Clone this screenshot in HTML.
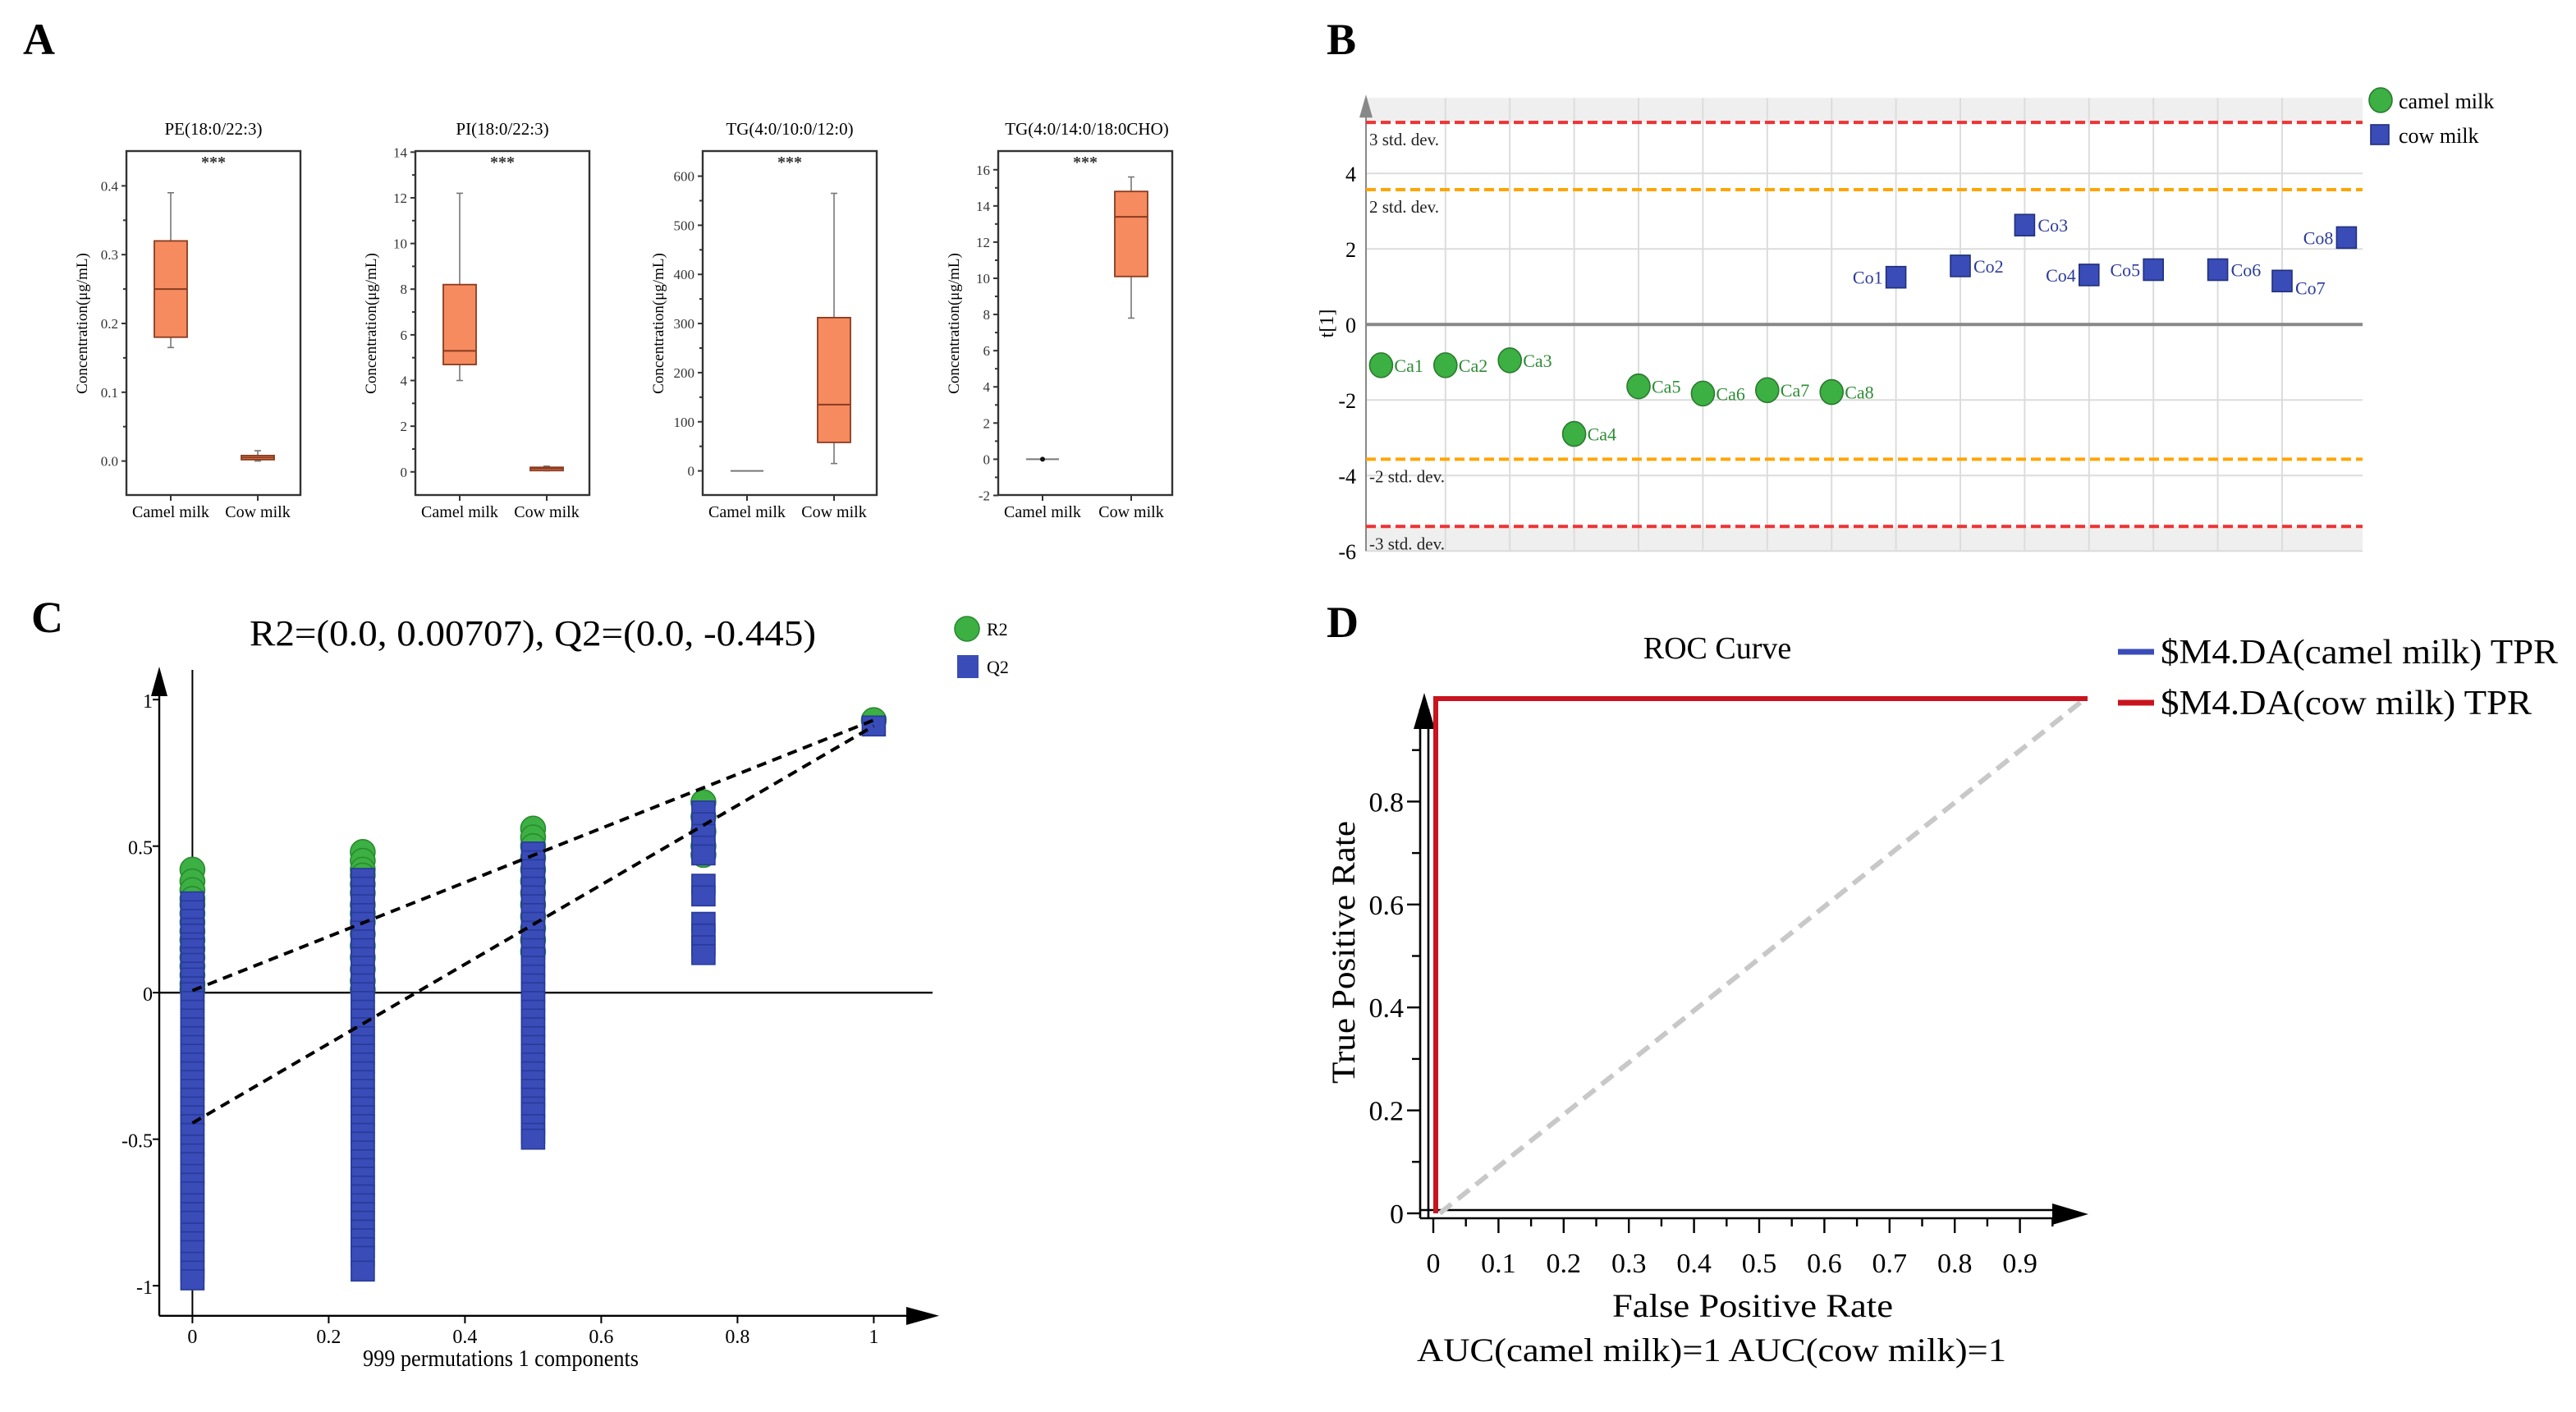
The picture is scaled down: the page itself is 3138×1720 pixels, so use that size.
<!DOCTYPE html>
<html><head><meta charset="utf-8">
<style>
html,body{margin:0;padding:0;background:#fff;}
svg{display:block;}
text{font-family:"Liberation Serif","DejaVu Serif",serif;}
</style></head>
<body>
<svg id="fig" width="3138" height="1720" viewBox="0 0 1569 860" xmlns="http://www.w3.org/2000/svg">
<rect x="0" y="0" width="1569" height="860" fill="#fff"/>
<text x="14" y="33" font-size="27" font-weight="bold">A</text>
<text x="808" y="33" font-size="27" font-weight="bold">B</text>
<text x="19" y="385" font-size="27" font-weight="bold">C</text>
<text x="808" y="388" font-size="27" font-weight="bold">D</text>
<g id="pa"></g>
<g id="pb"></g>
<g id="pc"></g>
<g id="pd"></g>
</svg>
<script>
// ---------- Panel A data ----------
const boxCats = ['Camel milk','Cow milk'];
const boxTitles = ['PE(18:0/22:3)','PI(18:0/22:3)','TG(4:0/10:0/12:0)','TG(4:0/14:0/18:0CHO)'];
// [min, q1, median, q3, max]
const peCamel = [0.165,0.18,0.25,0.32,0.39];
const peCow = [0.0,0.002,0.005,0.008,0.015];
const piCamel = [4.0,4.7,5.3,8.2,12.2];
const piCow = [0.05,0.1,0.15,0.2,0.25];
const tg1Camel = [0,0,0,0,0];
const tg1Cow = [15,58,135,312,565];
const tg2Camel = [0,0,0,0,0];
const tg2Cow = [7.8,10.1,13.4,14.8,15.6];
const tick1 = ['0.0','0.1','0.2','0.3','0.4'];
const tick2 = ['0','2','4','6','8','10','12','14'];
const tick3 = ['0','100','200','300','400','500','600'];
const tick4 = ['-2','0','2','4','6','8','10','12','14','16'];

// ---------- Panel B data ----------
const camelLabels = ['Ca1','Ca2','Ca3','Ca4','Ca5','Ca6','Ca7','Ca8'];
const camelScores = [-1.08,-1.08,-0.95,-2.9,-1.64,-1.83,-1.74,-1.79];
const cowLabels = ['Co1','Co2','Co3','Co4','Co5','Co6','Co7','Co8'];
const cowScores = [1.25,1.55,2.63,1.31,1.45,1.45,1.15,2.30];
const bTicks = ['-6','-4','-2','0','2','4'];
const stdLevels = [3.57,5.35];

// ---------- Panel C data ----------
const permX = [0,0.25,0.5,0.75,1];
const r2At0 = [0.42,0.38,0.35,0.32,0.30,0.27,0.24,0.21,0.18,0.15,0.12,0.09,0.06,0.03,0.01];
const r2At25 = [0.48,0.45,0.42,0.40,0.37,0.34,0.30,0.27,0.24,0.20,0.16,0.12,0.08,0.04,0.01];
const r2At50 = [0.56,0.53,0.50,0.46,0.42,0.38,0.34,0.30,0.26,0.22,0.18,0.14];
const r2At75 = [0.65,0.60,0.55,0.50,0.47];
const r2At100 = [0.93];
const q2At0 = [0.31,0.28,0.25,0.22,0.20,0.17,0.15,0.12,0.10,0.07,0.05,0.02,0,-0.03,-0.06,-0.09,-0.12,-0.15,-0.18,-0.21,-0.24,-0.27,-0.30,-0.33,-0.36,-0.39,-0.42,-0.45,-0.48,-0.52,-0.55,-0.58,-0.62,-0.65,-0.68,-0.72,-0.75,-0.78,-0.82,-0.85,-0.88,-0.92,-0.95,-0.98];
const q2At25 = [0.39,0.36,0.33,0.30,0.27,0.24,0.21,0.18,0.15,0.12,0.09,0.06,0.03,0,-0.03,-0.06,-0.09,-0.12,-0.15,-0.18,-0.21,-0.24,-0.27,-0.30,-0.33,-0.36,-0.39,-0.42,-0.45,-0.48,-0.51,-0.54,-0.57,-0.60,-0.63,-0.66,-0.69,-0.72,-0.75,-0.78,-0.81,-0.84,-0.87,-0.90,-0.95];
const q2At50 = [0.48,0.45,0.42,0.39,0.36,0.33,0.30,0.27,0.24,0.21,0.18,0.15,0.12,0.09,0.06,0.03,0,-0.03,-0.06,-0.09,-0.12,-0.15,-0.18,-0.21,-0.24,-0.27,-0.30,-0.33,-0.36,-0.39,-0.41,-0.45,-0.48,-0.50];
const q2At75 = [0.62,0.58,0.54,0.50,0.47,0.37,0.33,0.24,0.20,0.16,0.13];
const q2At100 = [0.91];
const r2Intercept = [0.00707,0.93];
const q2Intercept = [-0.445,0.91];
const cXTicks = ['0','0.2','0.4','0.6','0.8','1'];
const cYTicks = ['-1','-0.5','0','0.5','1'];

// ---------- Panel D data ----------
const rocFpr = [0,0,1];
const rocTpr = [0,1,1];
const dXTicks = ['0','0.1','0.2','0.3','0.4','0.5','0.6','0.7','0.8','0.9'];
const dYTicks = ['0','0.2','0.4','0.6','0.8'];

const NS='http://www.w3.org/2000/svg';
function mk(tag, attrs, parent){const e=document.createElementNS(NS,tag);for(const k in attrs)e.setAttribute(k,attrs[k]);parent.appendChild(e);return e;}
function tx(str, attrs, parent){const e=mk('text',attrs,parent);e.textContent=str;return e;}

// ================= PANEL A =================
const pa=document.getElementById('pa');
const subs=[
 {fx:77,cx:[104,157],y0:280.8,k:419,ticks:tick1,data:[peCamel,peCow],tx:130,minor:0.05},
 {fx:253,cx:[280,333],y0:287.4,k:13.91,ticks:tick2,data:[piCamel,piCow],tx:306,minor:1},
 {fx:428,cx:[455,508],y0:286.8,k:0.2992,ticks:tick3,data:[tg1Camel,tg1Cow],tx:481,minor:50},
 {fx:608,cx:[635,689],y0:279.7,k:11.02,ticks:tick4,data:[tg2Camel,tg2Cow],tx:662,minor:1}
];
subs.forEach((s,si)=>{
  const g=mk('g',{},pa);
  
  
  const yv=v=>s.y0-v*s.k;
  const t=tx(boxTitles[si],{x:s.tx,y:82,'font-size':10.5,'text-anchor':'middle'},g);
  
  
  const fr=mk('rect',{x:s.fx,y:92,width:106,height:209.5,fill:'none',stroke:'#333','stroke-width':1.2},g);
  
  
  const st=tx('***',{x:s.fx+53,y:102,'font-size':10,'text-anchor':'middle','font-weight':'bold',fill:'#333'},g);
  
  
  const yl=tx('Concentration(μg/mL)',{x:0,y:0,'font-size':9.5,'text-anchor':'middle',transform:`translate(${s.fx-24},197) rotate(-90)`},g);
  
  
  s.ticks.forEach(lb=>{
    const v=parseFloat(lb);const y=yv(v);
    mk('line',{x1:s.fx-3,x2:s.fx,y1:y,y2:y,stroke:'#333'},g);
    const l=tx(lb,{x:s.fx-5,y:y+3,'font-size':8.5,'text-anchor':'end',fill:'#333'},g);
    
    
    const ym=yv(v+s.minor);
    if(ym>93) mk('line',{x1:s.fx-2,x2:s.fx,y1:ym,y2:ym,stroke:'#333'},g);
  });
  boxCats.forEach((c,ci)=>{
    const x=s.cx[ci];
    mk('line',{x1:x,x2:x,y1:301.5,y2:305,stroke:'#333'},g);
    const cl=tx(c,{x:x,y:315,'font-size':10,'text-anchor':'middle'},g);
    
    
    const d=s.data[ci];
    const bg=mk('g',{},g);
    
    
    if(d[4]-d[0]<1e-9){
      mk('line',{x1:x-10,x2:x+10,y1:yv(d[2]),y2:yv(d[2]),stroke:'#777','stroke-width':1},bg);
      if(si===3) mk('circle',{cx:x,cy:yv(d[2]),r:1.5,fill:'#111'},bg);
      return;
    }
    mk('line',{x1:x,x2:x,y1:yv(d[4]),y2:yv(d[3]),stroke:'#777','stroke-width':0.8},bg);
    mk('line',{x1:x,x2:x,y1:yv(d[1]),y2:yv(d[0]),stroke:'#777','stroke-width':0.8},bg);
    mk('line',{x1:x-2,x2:x+2,y1:yv(d[4]),y2:yv(d[4]),stroke:'#777','stroke-width':0.8},bg);
    mk('line',{x1:x-2,x2:x+2,y1:yv(d[0]),y2:yv(d[0]),stroke:'#777','stroke-width':0.8},bg);
    mk('rect',{x:x-10,y:yv(d[3]),width:20,height:Math.max(yv(d[1])-yv(d[3]),2),fill:'#F58B5F',stroke:'#8A3B1E','stroke-width':0.9},bg);
    mk('line',{x1:x-10,x2:x+10,y1:yv(d[2]),y2:yv(d[2]),stroke:'#8A3B1E','stroke-width':1},bg);
  });
});

// ================= PANEL B =================
const pb=document.getElementById('pb');
const bx=i=>802+39.2*(i+1);
const by=v=>197.6-v*23;
const bL=832,bR=1439;
mk('rect',{x:bL,y:by(6),width:bR-bL,height:by(stdLevels[1])-by(6),fill:'#efefef'},pb);
mk('rect',{x:bL,y:by(-stdLevels[1]),width:bR-bL,height:by(-6)-by(-stdLevels[1]),fill:'#efefef'},pb);
for(let i=1;i<15;i++){mk('line',{x1:bx(i),x2:bx(i),y1:by(6),y2:by(-6),stroke:'#dcdcdc','stroke-width':1},pb);}
bTicks.forEach(lb=>{const v=+lb;const y=by(v);
  if(v!==0) mk('line',{x1:bL,x2:bR,y1:y,y2:y,stroke:'#dcdcdc','stroke-width':1},pb);
  const t=tx(lb,{x:826,y:y+5,'font-size':13,'text-anchor':'end'},pb);
  
  
});
mk('line',{x1:bL,x2:bR,y1:by(0),y2:by(0),stroke:'#888','stroke-width':2},pb);
mk('line',{x1:bL,x2:bL,y1:by(-6),y2:by(6)+8,stroke:'#888','stroke-width':1},pb);
mk('polygon',{points:`${bL-4},${by(6)+12} ${bL+4},${by(6)+12} ${bL},${by(6)-2}`,fill:'#888'},pb);
const stdNames=[['3 std. dev.',stdLevels[1],'#ee3333'],['2 std. dev.',stdLevels[0],'#ffa500'],['-2 std. dev.',-stdLevels[0],'#ffa500'],['-3 std. dev.',-stdLevels[1],'#ee3333']];
stdNames.forEach(s=>{
  const l=mk('line',{x1:bL,x2:bR,y1:by(s[1]),y2:by(s[1]),stroke:s[2],'stroke-width':2,'stroke-dasharray':'6,3'},pb);
  
  
  const t=tx(s[0],{x:bL+2,y:by(s[1])+14,'font-size':10.5,fill:'#222'},pb);
  
  
});
const tl=tx('t[1]',{x:0,y:0,'font-size':12,'text-anchor':'middle',transform:'translate(812,197) rotate(-90)'},pb);


camelScores.forEach((v,i)=>{
  const c=mk('ellipse',{cx:bx(i),cy:by(v),rx:7,ry:7.5,fill:'#3cb043',stroke:'#2a7a2e','stroke-width':0.8},pb);
  
  
  const t=tx(camelLabels[i],{x:bx(i)+8,y:by(v)+4,'font-size':11,fill:'#2e8b35'},pb);
  
  
});
const cowLeft=[true,false,false,true,true,false,false,true];
cowScores.forEach((v,i)=>{
  const x=bx(i+8);
  const r=mk('rect',{x:x-6,y:by(v)-6.5,width:12,height:13,fill:'#3a4cb8',stroke:'#22307a','stroke-width':0.8},pb);
  
  
  const t=tx(cowLabels[i],{x:cowLeft[i]?x-8:x+8,y:by(v)+(i===6?8:4),'font-size':11,fill:'#2c3a9a','text-anchor':cowLeft[i]?'end':'start'},pb);
  
  
});
const lg1=mk('ellipse',{cx:1450,cy:61,rx:7,ry:7.5,fill:'#3cb043',stroke:'#2a7a2e','stroke-width':0.8},pb);


const lgt1=tx('camel milk',{x:1461,y:66,'font-size':13},pb);


const lg2=mk('rect',{x:1444,y:76,width:11,height:12,fill:'#3a4cb8',stroke:'#22307a','stroke-width':0.8},pb);


const lgt2=tx('cow milk',{x:1461,y:87,'font-size':13},pb);



// ================= PANEL C =================
const pc=document.getElementById('pc');
const cx=v=>117.2+v*415;
const cy=v=>604.6-v*178.5;
const ct=tx('R2=(0.0, 0.00707), Q2=(0.0, -0.445)',{x:152,y:393,'font-size':22,textLength:345,lengthAdjust:'spacingAndGlyphs'},pc);


mk('line',{x1:97,x2:97,y1:801.4,y2:418,stroke:'#000','stroke-width':1.2},pc);
mk('polygon',{points:'92,424 102,424 97,406',fill:'#000'},pc);
mk('line',{x1:97,x2:555,y1:801.4,y2:801.4,stroke:'#000','stroke-width':1.2},pc);
mk('polygon',{points:'552,796 552,807 572,801.4',fill:'#000'},pc);
mk('line',{x1:cx(0),x2:cx(0),y1:408,y2:801.4,stroke:'#000','stroke-width':1},pc);
mk('line',{x1:97,x2:568,y1:cy(0),y2:cy(0),stroke:'#000','stroke-width':1.2},pc);
cXTicks.forEach(lb=>{const x=cx(+lb);
  mk('line',{x1:x,x2:x,y1:801.4,y2:806,stroke:'#000'},pc);
  const t=tx(lb,{x:x,y:818,'font-size':12,'text-anchor':'middle'},pc);
  
  
});
cYTicks.forEach(lb=>{const y=cy(+lb);
  mk('line',{x1:93,x2:97,y1:y,y2:y,stroke:'#000'},pc);
  const t=tx(lb,{x:93,y:y+5,'font-size':12,'text-anchor':'end'},pc);
  
  
});
const cxl=tx('999 permutations 1 components',{x:221,y:832,'font-size':14,textLength:168,lengthAdjust:'spacingAndGlyphs'},pc);


const r2Sets=[r2At0,r2At25,r2At50,r2At75,r2At100];
const q2Sets=[q2At0,q2At25,q2At50,q2At75,q2At100];
r2Sets.forEach((set,k)=>set.forEach(v=>{
  const c=mk('circle',{cx:cx(permX[k]),cy:cy(v),r:7.5,fill:'#3cb043',stroke:'#2a8a30','stroke-width':0.8},pc);
  
  
}));
q2Sets.forEach((set,k)=>set.forEach(v=>{
  const r=mk('rect',{x:cx(permX[k])-7,y:cy(v)-6,width:14,height:12,fill:'#3a4cb8',stroke:'#283a99','stroke-width':0.8},pc);
  
  
}));
const rl=mk('line',{x1:cx(0),y1:cy(r2Intercept[0]),x2:cx(1),y2:cy(r2Intercept[1]),stroke:'#000','stroke-width':2,'stroke-dasharray':'6,4'},pc);


const ql=mk('line',{x1:cx(0),y1:cy(q2Intercept[0]),x2:cx(1),y2:cy(q2Intercept[1]),stroke:'#000','stroke-width':2,'stroke-dasharray':'6,4'},pc);


const cl1=mk('circle',{cx:589,cy:383,r:7.5,fill:'#3cb043',stroke:'#2a8a30','stroke-width':0.8},pc);


const clt1=tx('R2',{x:601,y:387,'font-size':11,'font-family':'Liberation Sans, sans-serif'},pc);


const cl2=mk('rect',{x:583,y:399,width:13,height:14,fill:'#3a4cb8'},pc);


const clt2=tx('Q2',{x:601,y:410,'font-size':11,'font-family':'Liberation Sans, sans-serif'},pc);



// ================= PANEL D =================
const pd=document.getElementById('pd');
const dx=v=>873+v*397;
const dy=v=>739-v*313.5;
const dt=tx('ROC Curve',{x:1046,y:401,'font-size':19,'text-anchor':'middle'},pd);


mk('line',{x1:865,x2:865,y1:742,y2:432,stroke:'#000','stroke-width':1.3},pd);
mk('line',{x1:870,x2:870,y1:742,y2:432,stroke:'#000','stroke-width':1.3},pd);
mk('polygon',{points:'861,444 874,444 867.5,422',fill:'#000'},pd);
mk('line',{x1:865,x2:1255,y1:737,y2:737,stroke:'#000','stroke-width':1.3},pd);
mk('line',{x1:865,x2:1255,y1:742,y2:742,stroke:'#000','stroke-width':1.3},pd);
mk('polygon',{points:'1250,733 1250,746 1272,739.5',fill:'#000'},pd);
dXTicks.forEach(lb=>{const x=dx(+lb);
  mk('line',{x1:x,x2:x,y1:742,y2:751,stroke:'#000','stroke-width':1.2},pd);
  mk('line',{x1:x+19.85,x2:x+19.85,y1:742,y2:747,stroke:'#000','stroke-width':1.2},pd);
  const t=tx(lb,{x:x,y:775,'font-size':17,'text-anchor':'middle'},pd);
  
  
});
dYTicks.forEach(lb=>{const y=dy(+lb);
  mk('line',{x1:857,x2:865,y1:y,y2:y,stroke:'#000','stroke-width':1.2},pd);
  mk('line',{x1:860,x2:865,y1:y-31.35,y2:y-31.35,stroke:'#000','stroke-width':1.2},pd);
  const t=tx(lb,{x:855,y:y+6,'font-size':17,'text-anchor':'end'},pd);
  
  
});
const dyl=tx('True Positive Rate',{x:-660,y:0,'font-size':20,textLength:160,lengthAdjust:'spacingAndGlyphs',transform:'translate(825,0) rotate(-90)'},pd);


const dxl=tx('False Positive Rate',{x:982,y:802,'font-size':20,textLength:171,lengthAdjust:'spacingAndGlyphs'},pd);


const auc=tx('AUC(camel milk)=1 AUC(cow milk)=1',{x:863,y:829,'font-size':20,textLength:359,lengthAdjust:'spacingAndGlyphs'},pd);


const diag=mk('line',{x1:dx(0.01),y1:dy(0),x2:dx(1),y2:dy(1),stroke:'#c8c8c8','stroke-width':3,'stroke-dasharray':'9,5'},pd);


const pts=rocFpr.map((f,i)=>`${dx(f)+1.5},${dy(rocTpr[i])}`).join(' ');
const blue=mk('polyline',{points:pts,fill:'none',stroke:'#3a4cb8','stroke-width':3},pd);


const red=mk('polyline',{points:pts,fill:'none',stroke:'#c8141e','stroke-width':3},pd);


const dl1=mk('line',{x1:1290,x2:1312,y1:397,y2:397,stroke:'#3a4cb8','stroke-width':3.5},pd);


const dlt1=tx('$M4.DA(camel milk) TPR',{x:1316,y:404,'font-size':21,textLength:242,lengthAdjust:'spacingAndGlyphs'},pd);


const dl2=mk('line',{x1:1290,x2:1312,y1:428,y2:428,stroke:'#c8141e','stroke-width':3.5},pd);


const dlt2=tx('$M4.DA(cow milk) TPR',{x:1316,y:435,'font-size':21,textLength:226,lengthAdjust:'spacingAndGlyphs'},pd);


</script>
</body></html>
